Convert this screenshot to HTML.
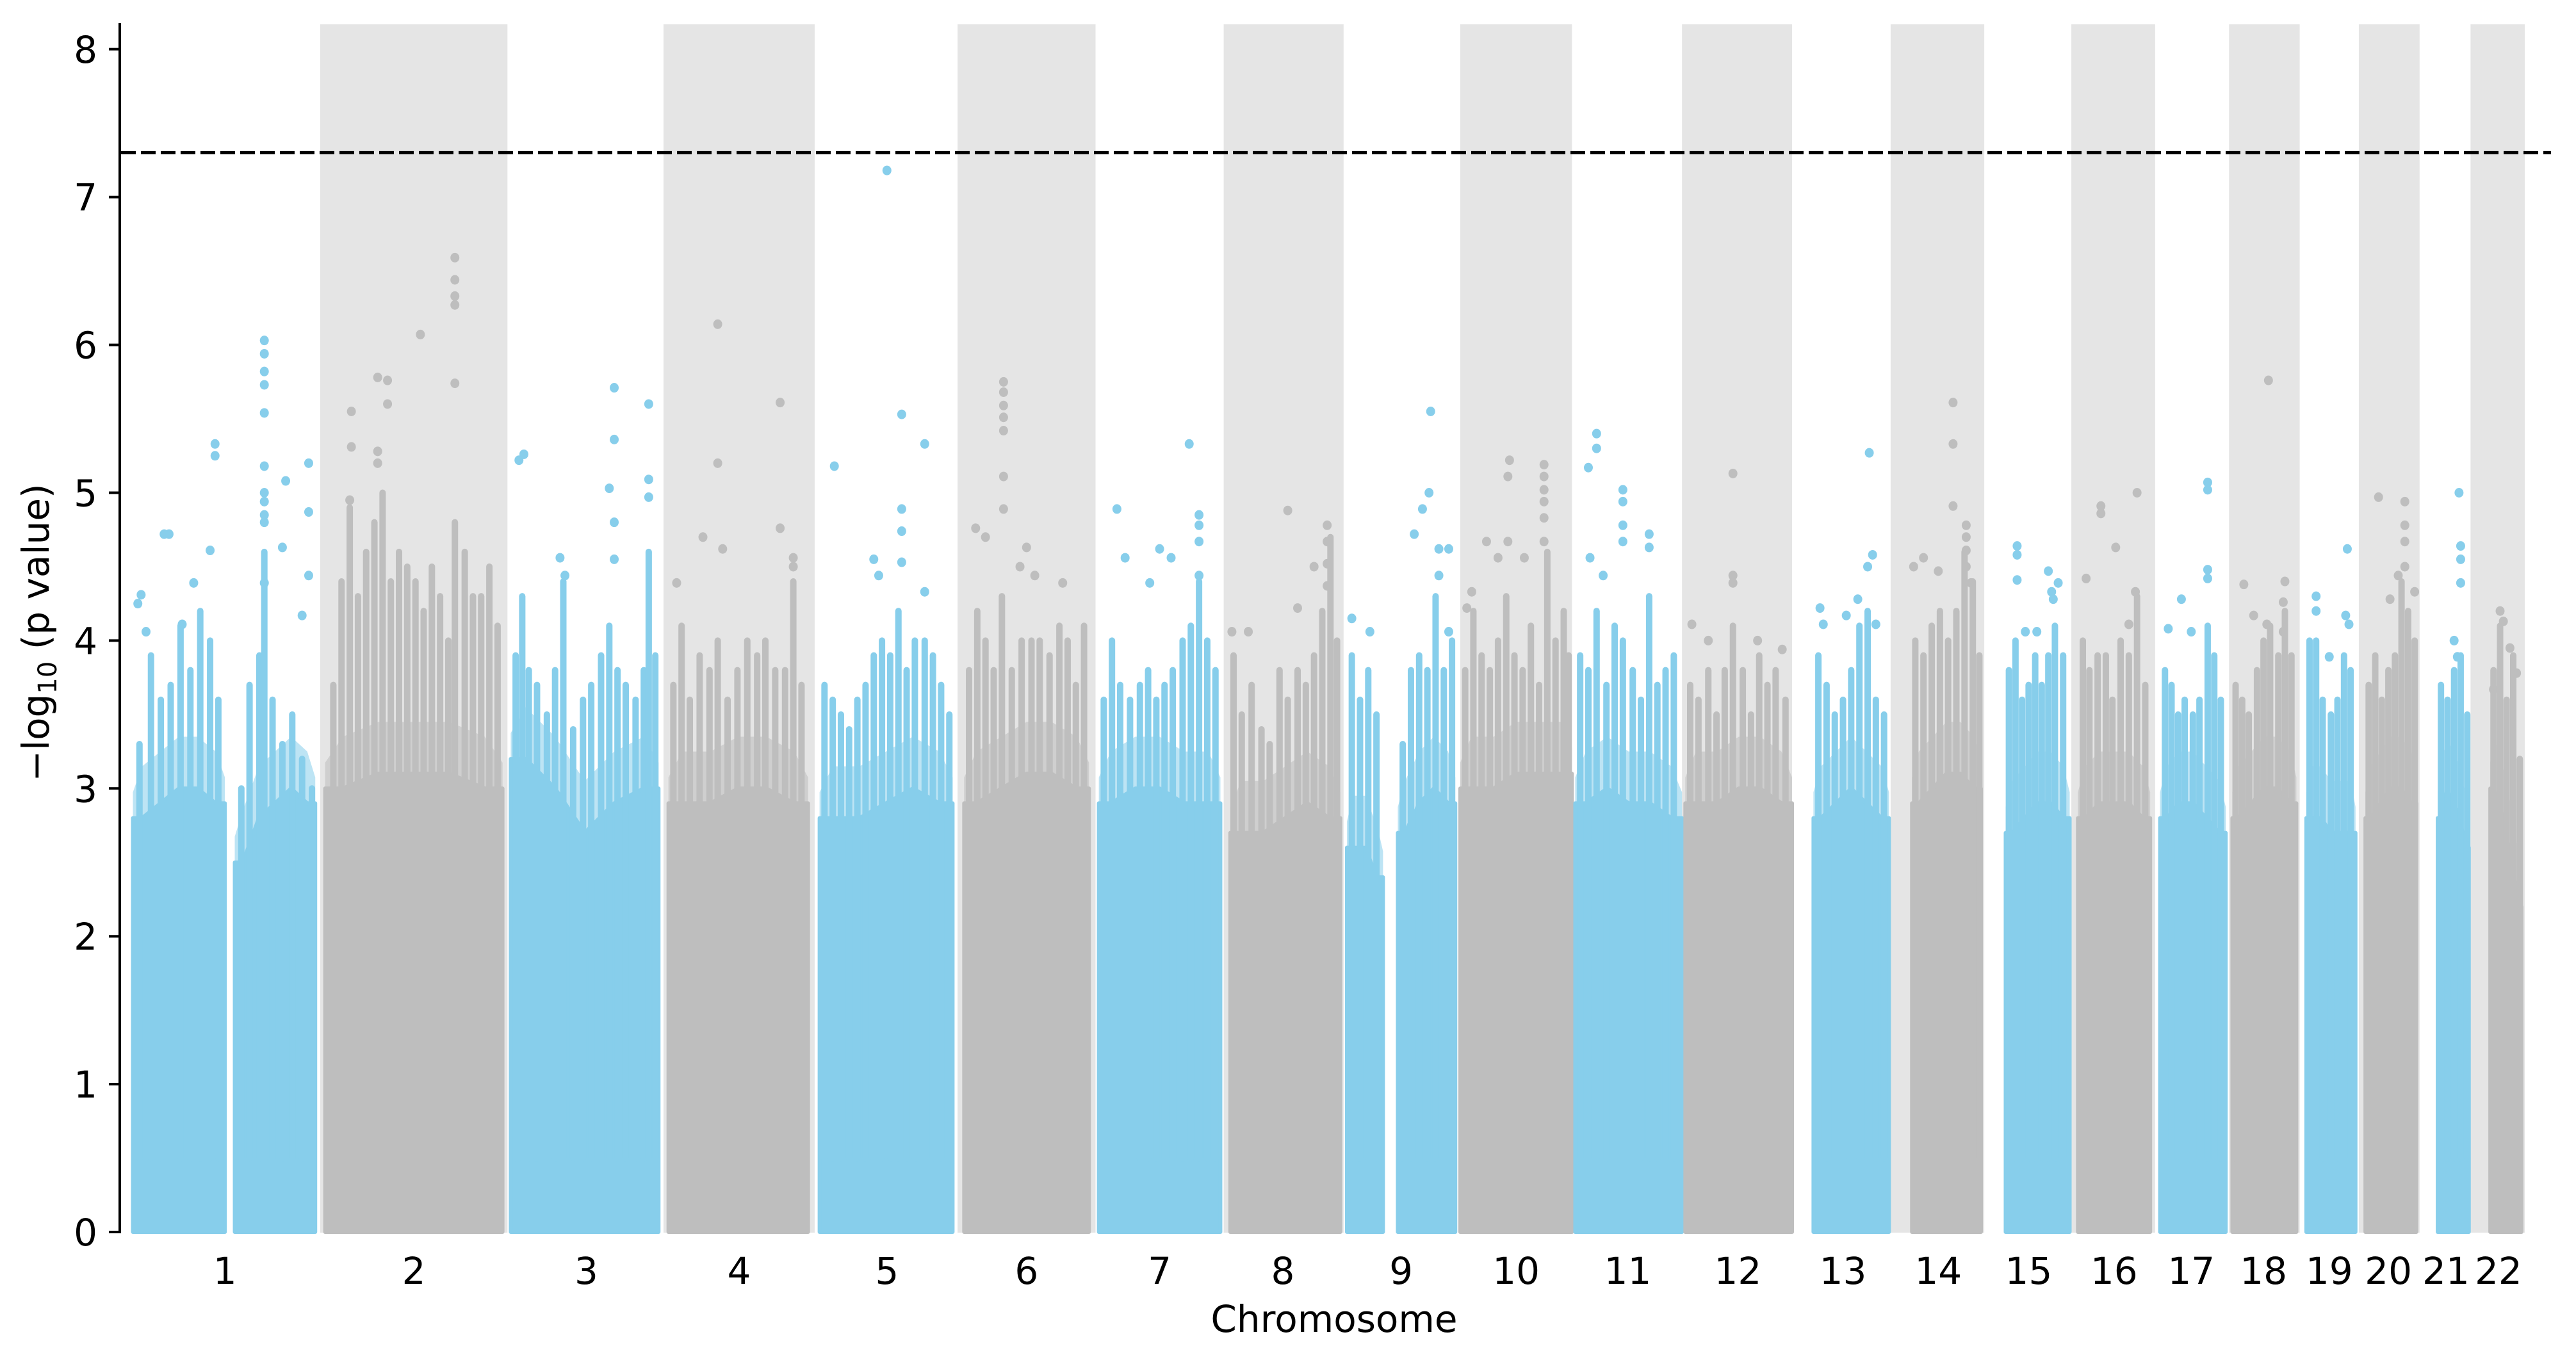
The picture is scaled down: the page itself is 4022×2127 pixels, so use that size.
<!DOCTYPE html>
<html><head><meta charset="utf-8">
<style>
html,body{margin:0;padding:0;background:#fff;}
svg{display:block;}
text{font-family:"DejaVu Sans","Liberation Sans",sans-serif;fill:#000;}
</style></head>
<body>
<svg id="chart" xmlns="http://www.w3.org/2000/svg" width="4022" height="2127" viewBox="0 0 4022 2127">
<g id="bands"></g>
<g id="fringe"></g>
<g id="dense"></g>
<g id="streaks"></g>
<g id="pts"></g>
<g id="axes"></g>
</svg>
<script>
// cumulative genomic position units
const chromNames = ["1","2","3","4","5","6","7","8","9","10","11","12","13","14","15","16","17","18","19","20","21","22"];
const bandStart = [80,195,311,404,498,583,669,745,820,889,959,1024,1093,1151,1210,1261,1314,1357,1402,1436,1475,1504];
const bandEnd   = [193,309,402,496,581,667,743,818,887,957,1022,1091,1149,1208,1259,1312,1355,1400,1434,1473,1502,1537];
const labelPos  = [137,252,357,450,540,625,706,781,853,923,991,1058,1122,1180,1235,1287,1334,1378,1418,1454,1489,1521];
const segments = [
 [[81,137],[143,192]],[[198,306]],[[311,401]],[[407,492]],[[499,580]],[[587,663]],[[669,743]],[[749,816]],
 [[820,842],[851,886]],[[889,957]],[[959,1024]],[[1026,1091]],[[1104,1150]],[[1164,1206]],[[1221,1260]],
 [[1265,1309]],[[1315,1355]],[[1359,1398]],[[1404,1434]],[[1440,1471]],[[1484,1503]],[[1516,1535]]];
const denseTop = [
 [[2.8,2.9,3.0,3.0,2.9],[2.5,2.8,2.9,3.0,2.9]],[[3.0,3.1,3.1,3.1,3.0]],[[3.2,3.0,2.7,2.9,3.0]],[[2.9,2.9,3.0,3.0,2.9]],
 [[2.8,2.8,2.9,3.0,2.9]],[[2.9,3.0,3.1,3.1,3.0]],[[2.9,3.0,3.0,2.9,2.9]],[[2.7,2.7,2.8,2.9,2.8]],
 [[2.6,2.6,2.4],[2.7,2.9,3.0,2.9]],[[3.0,3.0,3.1,3.1,3.1]],[[2.9,3.0,2.9,2.9,2.8]],[[2.9,2.9,3.0,3.0,2.9]],
 [[2.8,2.9,3.0,2.9,2.8]],[[2.9,3.0,3.1,3.1,3.0]],[[2.7,2.8,2.9,2.9,2.8]],[[2.8,2.9,2.9,2.9,2.8]],
 [[2.8,2.9,2.9,2.8,2.7]],[[2.8,2.9,3.0,3.0,2.9]],[[2.8,2.8,2.7,2.7,2.7]],[[2.8,2.9,3.0,3.0,2.9]],
 [[2.8,3.0,2.9,2.8,2.6]],[[3.0,2.9,2.7,2.5,2.2]]];
const streakPos = [
 [85,92,98,104,110,116,122,128,133,147,152,158,161,166,172,178,184,190],
 [203,208,213,218,223,228,233,238,243,248,253,258,263,268,273,277,283,288,293,298,303],
 [314,318,322,327,333,338,343,349,355,360,366,371,376,381,387,392,395,399],
 [410,415,420,426,432,437,443,449,455,461,466,472,478,483,488],
 [502,507,512,517,522,527,532,537,542,547,552,557,563,568,573,578],
 [590,595,600,605,610,616,622,628,633,639,645,650,655,660],
 [672,677,682,688,694,699,704,709,714,720,725,730,735,740],
 [751,756,762,768,773,779,784,790,795,800,805,810,814],
 [823,828,833,838,854,859,864,869,874,879,884],
 [892,897,902,907,912,917,922,927,932,937,942,947,952,955],
 [962,967,972,978,983,988,994,999,1004,1009,1014,1019],
 [1029,1034,1040,1045,1050,1055,1061,1066,1071,1076,1081,1087],
 [1107,1112,1117,1122,1127,1132,1137,1142,1147],
 [1166,1171,1176,1181,1186,1191,1196,1201,1205],
 [1223,1227,1231,1235,1239,1243,1247,1251,1256],
 [1268,1272,1277,1282,1286,1291,1296,1301,1306],
 [1318,1322,1326,1330,1335,1339,1344,1348,1352],
 [1361,1365,1369,1374,1378,1382,1387,1391,1395],
 [1406,1410,1414,1419,1423,1427,1431],
 [1442,1446,1450,1454,1458,1462,1466,1470],
 [1486,1490,1494,1498,1502],
 [1518,1522,1526,1530,1534]];
const streakTop = [
 [3.3,3.9,3.6,3.7,4.1,3.8,4.2,4.0,3.6,3.0,3.7,3.9,4.6,3.6,3.3,3.5,3.2,3.0],
 [3.7,4.4,4.9,4.3,4.6,4.8,5.0,4.4,4.6,4.5,4.4,4.2,4.5,4.3,4.0,4.8,4.6,4.3,4.3,4.5,4.1],
 [3.9,4.3,3.8,3.7,3.5,3.8,4.4,3.4,3.6,3.7,3.9,4.1,3.8,3.7,3.6,3.8,4.6,3.9],
 [3.7,4.1,3.6,3.9,3.8,4.0,3.6,3.8,4.0,3.9,4.0,3.8,3.8,4.4,3.7],
 [3.7,3.6,3.5,3.4,3.6,3.7,3.9,4.0,3.9,4.2,3.8,4.0,4.0,3.9,3.7,3.5],
 [3.8,4.2,4.0,3.8,4.3,3.8,4.0,4.0,4.0,3.9,4.1,4.0,3.7,4.1],
 [3.6,4.0,3.7,3.6,3.7,3.8,3.6,3.7,3.8,4.0,4.1,4.4,4.0,3.8],
 [3.9,3.5,3.7,3.4,3.3,3.8,3.6,3.8,3.7,3.9,4.2,4.7,4.0],
 [3.9,3.6,3.8,3.5,3.3,3.8,3.9,3.8,4.3,3.8,4.0],
 [3.8,4.2,3.9,3.8,4.0,4.3,3.9,3.8,4.1,3.7,4.6,4.0,4.2,3.9],
 [3.9,3.8,4.2,3.7,4.1,4.0,3.8,3.6,4.3,3.7,3.8,3.9],
 [3.7,3.6,3.8,3.5,3.8,4.1,3.8,3.5,3.9,3.7,3.8,3.6],
 [3.9,3.7,3.5,3.6,3.8,4.1,4.2,3.6,3.5],
 [4.0,3.9,4.1,4.2,4.0,4.2,4.6,4.4,3.9],
 [3.8,4.0,3.6,3.7,3.9,3.7,3.9,4.1,3.9],
 [4.0,3.8,3.9,3.9,3.6,4.0,3.9,4.3,3.7],
 [3.8,3.7,3.5,3.6,3.5,3.6,4.1,3.9,3.6],
 [3.7,3.6,3.5,3.8,4.0,4.1,3.9,4.2,3.9],
 [4.0,4.0,3.6,3.5,3.6,3.9,3.8],
 [3.7,3.9,3.6,3.8,3.9,4.4,4.2,4.0],
 [3.7,3.6,3.8,3.9,3.5],
 [3.8,4.1,3.6,3.9,3.2]];
const topPoints = [
 [[131,5.33],[131,5.25],[103,4.72],[100,4.72],[128,4.61],[86,4.31],[84,4.25],[118,4.39],[89,4.06],[111,4.11],[161,6.03],[161,5.94],[161,5.82],[161,5.73],[161,5.54],[161,5.18],[161,5.0],[161,4.94],[161,4.85],[161,4.8],[174,5.08],[188,5.2],[188,4.87],[188,4.44],[172,4.63],[184,4.17],[161,4.39]],
 [[277,6.59],[277,6.44],[277,6.33],[277,6.27],[256,6.07],[230,5.78],[236,5.76],[236,5.6],[214,5.55],[214,5.31],[230,5.28],[277,5.74],[230,5.2],[213,4.95]],
 [[374,5.71],[395,5.6],[374,5.36],[316,5.22],[319,5.26],[371,5.03],[395,5.09],[395,4.97],[374,4.55],[341,4.56],[344,4.44],[374,4.8]],
 [[437,6.14],[475,5.61],[437,5.2],[428,4.7],[475,4.76],[483,4.56],[483,4.5],[412,4.39],[440,4.62]],
 [[540,7.18],[549,5.53],[563,5.33],[508,5.18],[549,4.89],[549,4.74],[549,4.53],[532,4.55],[535,4.44],[563,4.33]],
 [[611,5.75],[611,5.68],[611,5.59],[611,5.51],[611,5.42],[611,5.11],[611,4.89],[594,4.76],[600,4.7],[625,4.63],[630,4.44],[647,4.39],[621,4.5]],
 [[724,5.33],[680,4.89],[730,4.85],[730,4.78],[730,4.67],[706,4.62],[713,4.56],[685,4.56],[730,4.44],[700,4.39]],
 [[784,4.88],[808,4.78],[808,4.67],[808,4.52],[808,4.37],[750,4.06],[760,4.06],[800,4.5],[790,4.22]],
 [[871,5.55],[870,5.0],[866,4.89],[876,4.62],[882,4.62],[876,4.44],[861,4.72],[882,4.06],[823,4.15],[834,4.06]],
 [[919,5.22],[940,5.19],[940,5.11],[940,5.02],[940,4.94],[940,4.83],[940,4.67],[918,5.11],[918,4.67],[912,4.56],[905,4.67],[928,4.56],[896,4.33],[893,4.22]],
 [[972,5.4],[972,5.3],[967,5.17],[988,5.02],[988,4.94],[988,4.78],[988,4.67],[1004,4.72],[1004,4.63],[968,4.56],[976,4.44]],
 [[1055,5.13],[1055,4.44],[1055,4.39],[1030,4.11],[1040,4.0],[1070,4.0],[1085,3.94]],
 [[1138,5.27],[1140,4.58],[1137,4.5],[1131,4.28],[1124,4.17],[1108,4.22],[1110,4.11],[1142,4.11]],
 [[1189,5.61],[1189,5.33],[1189,4.91],[1197,4.78],[1197,4.7],[1197,4.61],[1171,4.56],[1180,4.47],[1197,4.5],[1200,4.39],[1165,4.5]],
 [[1228,4.64],[1228,4.58],[1228,4.41],[1247,4.47],[1249,4.33],[1250,4.28],[1240,4.06],[1233,4.06],[1253,4.39]],
 [[1279,4.91],[1279,4.86],[1301,5.0],[1288,4.63],[1270,4.42],[1300,4.33],[1296,4.11]],
 [[1344,5.07],[1344,5.02],[1344,4.48],[1344,4.42],[1328,4.28],[1320,4.08],[1334,4.06]],
 [[1381,5.76],[1366,4.38],[1391,4.4],[1390,4.26],[1390,4.06],[1380,4.11],[1372,4.17]],
 [[1410,4.3],[1410,4.2],[1429,4.62],[1428,4.17],[1430,4.11],[1418,3.89]],
 [[1448,4.97],[1464,4.94],[1464,4.78],[1464,4.67],[1464,4.5],[1460,4.44],[1470,4.33],[1455,4.28]],
 [[1497,5.0],[1498,4.64],[1498,4.55],[1498,4.39],[1494,4.0],[1496,3.89]],
 [[1522,4.2],[1524,4.13],[1528,3.95],[1518,3.67],[1532,3.78]]];
const yTicks = [0,1,2,3,4,5,6,7,8];
const threshold = 7.3;
const fringeExtra = 0.35;

const NS = "http://www.w3.org/2000/svg";
const X0 = 187, X1 = 3983, D0 = 73, D1 = 1553;
const Y0 = 1924, YU = 230.9;
function xS(p){ return X0 + (p - D0) * (X1 - X0) / (D1 - D0); }
function yS(v){ return Y0 - v * YU; }
function mk(tag, attrs, parent){
  const e = document.createElementNS(NS, tag);
  for (const k in attrs) e.setAttribute(k, attrs[k]);
  parent.appendChild(e); return e;
}
const BLUE = "#87ceeb", GREY = "#bebebe", BAND = "#e5e5e5";
const gB = document.getElementById("bands"), gD = document.getElementById("dense"),
      gF = document.getElementById("fringe"),
      gS = document.getElementById("streaks"), gP = document.getElementById("pts"),
      gA = document.getElementById("axes");

function envPath(seg, vals, extra){
  const n = vals.length;
  let d = "M" + xS(seg[0]) + "," + yS(0);
  d += " L" + xS(seg[0]) + "," + yS(vals[0] + extra * 0.5);
  vals.forEach((v, k) => {
    const p = seg[0] + (seg[1] - seg[0]) * (k + 0.5) / n;
    d += " L" + xS(p).toFixed(1) + "," + yS(v + extra).toFixed(1);
  });
  d += " L" + xS(seg[1]) + "," + yS(vals[n - 1] + extra * 0.5) + " L" + xS(seg[1]) + "," + yS(0) + " Z";
  return d;
}

chromNames.forEach((c, i) => {
  const col = i % 2 === 0 ? BLUE : GREY;
  if (i % 2 === 1) {
    const r = mk("rect", {x: xS(bandStart[i]), y: 38, width: xS(bandEnd[i]) - xS(bandStart[i]), height: Y0 + 1 - 38, fill: BAND}, gB);
    
    
  }
  segments[i].forEach((seg, si) => {
    const vals = denseTop[i][si];
    const f = mk("path", {d: envPath(seg, vals, fringeExtra), fill: col, "fill-opacity": 0.55}, gF);
    
    
    const path = mk("path", {d: envPath(seg, vals, 0), fill: col, stroke: col, "stroke-width": 6, "stroke-linejoin": "round"}, gD);
    
    
  });
  streakPos[i].forEach((p, k) => {
    const l = mk("line", {x1: xS(p), x2: xS(p), y1: yS(0.5), y2: yS(streakTop[i][k]), stroke: col, "stroke-width": 10, "stroke-linecap": "round"}, gS);
    
    
  });
  topPoints[i].forEach(pt => {
    const e = mk("ellipse", {cx: xS(pt[0]), cy: yS(pt[1]), rx: 7, ry: 7.5, fill: col}, gP);
    
    
  });
  const t = mk("text", {x: xS(labelPos[i]), y: 2005, "font-size": 58, "text-anchor": "middle"}, gA);
  t.textContent = c;
  
  
});

const thr = mk("line", {x1: X0 + 2, x2: X1, y1: yS(threshold), y2: yS(threshold), stroke: "#000", "stroke-width": 5, "stroke-dasharray": "23 8"}, gA);



const spine = mk("line", {x1: X0, x2: X0, y1: 36, y2: Y0 + 2, stroke: "#000", "stroke-width": 4}, gA);



yTicks.forEach(v => {
  const tk = mk("line", {x1: 170, x2: X0, y1: yS(v), y2: yS(v), stroke: "#000", "stroke-width": 4}, gA);
  
  
  const tl = mk("text", {x: 152, y: yS(v) + 21, "font-size": 58, "text-anchor": "end"}, gA);
  tl.textContent = String(v);
  
  
});

const xt = mk("text", {x: 2083, y: 2080, "font-size": 58, "text-anchor": "middle"}, gA);
xt.textContent = "Chromosome";



const yt = mk("text", {x: 0, y: 0, "font-size": 58, "text-anchor": "middle", transform: "translate(76,988) rotate(-90)"}, gA);


yt.appendChild(document.createTextNode("\u2212log"));
const sub = mk("tspan", {"font-size": 40, dy: 12}, yt);
sub.textContent = "10";
const rest = mk("tspan", {dy: -12}, yt);
rest.textContent = " (p value)";
</script>
</body></html>
